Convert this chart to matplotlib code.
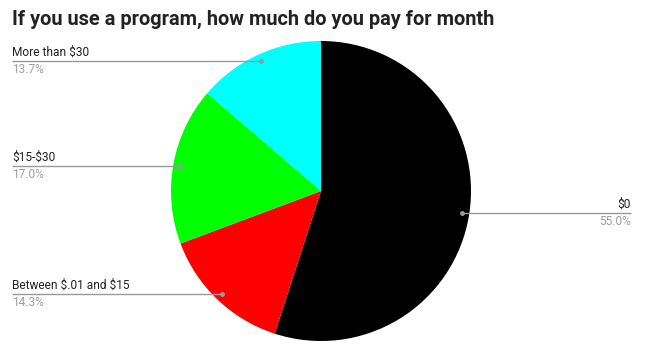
import numpy as np
import matplotlib
matplotlib.use("Agg")
import matplotlib.pyplot as plt

# ── Data ──────────────────────────────────────────────────────────────────────
labels = ["$0", "Between $.01 and $15", "$15-$30", "More than $30"]
shares = [55.0, 14.3, 17.0, 13.7]
colors = ["#000000", "#ff0000", "#00ff00", "#00ffff"]

TITLE = "If you use a program, how much do you pay for month"

# ── Layout (pixel coords, y measured from bottom) ─────────────────────────────
W, H = 647, 359
CX, CY, R = 321, H - 191, 150
DOT_R = 0.953 * R
LEFT_X, RIGHT_X = 12, 631

plt.rcParams["font.family"] = ["Roboto", "DejaVu Sans"]

fig = plt.figure(figsize=(W / 100, H / 100), dpi=100)
ax = fig.add_axes([0, 0, 1, 1])

wedges, _ = ax.pie(shares, colors=colors, startangle=90, counterclock=False,
                   center=(CX, CY), radius=R, frame=True,
                   wedgeprops=dict(linewidth=0))
ax.set_xlim(0, W)
ax.set_ylim(0, H)
ax.set_aspect("equal")
ax.axis("off")

# leader lines + labels
for w, lab, val in zip(wedges, labels, shares):
    ang = np.deg2rad((w.theta1 + w.theta2) / 2)
    px = CX + DOT_R * np.cos(ang)
    py = CY + DOT_R * np.sin(ang)
    right = np.cos(ang) > 0
    end_x = RIGHT_X if right else LEFT_X
    ax.plot([px, end_x], [py, py], color="#999999", lw=1, solid_capstyle="butt")
    ax.plot(px, py, "o", color="#999999", ms=2.5)
    ha = "right" if right else "left"
    ax.text(end_x, py + 2.5, lab.replace("$", r"\$"), ha=ha, va="bottom",
            fontsize=8.6, color="#222222")
    ax.text(end_x, py - 2, f"{val:.1f}%", ha=ha, va="top",
            fontsize=8.6, color="#9e9e9e")

fig.text(12 / W, 1 - 19 / H, TITLE, ha="left", va="center",
         fontsize=14.4, fontweight="bold", color="#222222")

fig.savefig("out.png", dpi=100, facecolor="white")
